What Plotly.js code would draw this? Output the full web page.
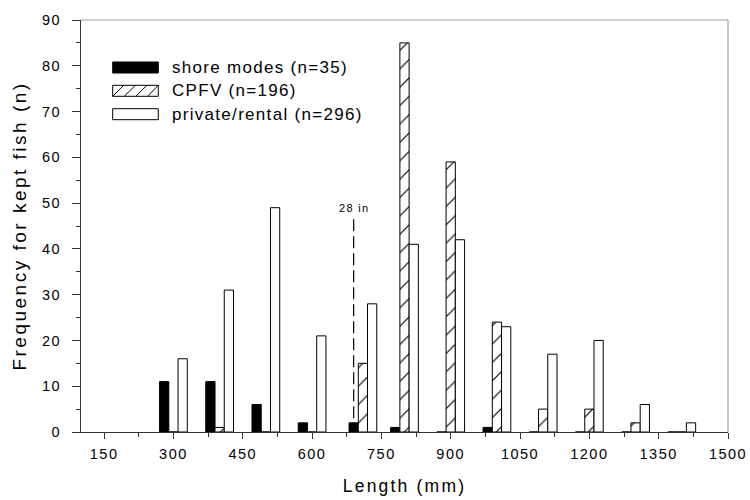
<!DOCTYPE html>
<html>
<head>
<meta charset="utf-8">
<script src="https://cdn.plot.ly/plotly-3.0.1.min.js"></script>
<style>
  html, body { margin: 0; padding: 0; background: #fff; }
  #chart { width: 750px; height: 500px; }
  .xtick text, .ytick text { letter-spacing: 1.5px; }
  .xtitle { letter-spacing: 2.2px; }
  .ytitle { letter-spacing: 2.5px; }
  .annotation-text { letter-spacing: 1.3px; }
</style>
</head>
<body>
<div id="chart"></div>
<script>
// ---- data ----
const lengthBins = [300, 400, 500, 600, 710, 800, 900, 1000, 1100, 1200, 1300, 1400];
const shoreModes = [11, 11, 6, 2, 2, 1, 0, 1, 0, 0, 0, 0];
const cpfv       = [0, 1, 0, 0, 15, 85, 59, 24, 5, 5, 2, 0];
const privateRental = [16, 31, 49, 21, 28, 41, 42, 23, 17, 20, 6, 2];
const seriesNames = ['shore modes (n=35)', 'CPFV (n=196)', 'private/rental (n=296)'];
const xTickVals = [150, 300, 450, 600, 750, 900, 1050, 1200, 1350, 1500];
const yTickVals = [0, 10, 20, 30, 40, 50, 60, 70, 80, 90];
const sizeLimitX = [690];
const sizeLimitY = [3, 46.5];
const sizeLimitLabel = ['28 in'];

// ---- layout helpers ----
const FONT = 'Liberation Sans, Arial, Helvetica, sans-serif';
const W = 750, H = 500;
const M = { l: 81, r: 22, t: 20, b: 68 };
const PW = W - M.l - M.r, PH = H - M.t - M.b;
const px = x => (x - M.l) / PW;           // pixel -> paper x
const py = y => (H - M.b - y) / PH;       // pixel -> paper y

const barW = 20;
const outline = { color: '#000', width: 1 };

const traces = [
  {
    type: 'bar', name: seriesNames[0], x: lengthBins, y: shoreModes,
    width: barW, offset: -30,
    marker: { color: '#000', line: outline }, showlegend: false
  },
  {
    type: 'bar', name: seriesNames[1], x: lengthBins, y: cpfv,
    width: barW, offset: -10,
    marker: { color: '#fff', line: outline,
      pattern: { shape: '/', fgcolor: '#000', bgcolor: '#fff', size: 13, solidity: 0.09 } },
    showlegend: false
  },
  {
    type: 'bar', name: seriesNames[2], x: lengthBins, y: privateRental,
    width: barW, offset: 10,
    marker: { color: '#fff', line: outline }, showlegend: false
  }
];

// custom legend (wide swatches as in the reference)
const legRows = [67.5, 90.8, 114.2];
const swX0 = 112.7, swX1 = 158.3, swH = 11;
const shapes = [];
const annotations = [];
legRows.forEach((cy, i) => {
  shapes.push({
    type: 'rect', xref: 'paper', yref: 'paper',
    x0: px(swX0), x1: px(swX1), y0: py(cy + swH / 2), y1: py(cy - swH / 2),
    fillcolor: i === 0 ? '#000' : '#fff', line: { color: '#000', width: 1 }
  });
  annotations.push({
    xref: 'paper', yref: 'paper', x: px(170), y: py(cy),
    xanchor: 'left', yanchor: 'middle', showarrow: false,
    text: seriesNames[i], font: { family: FONT, size: 17, color: '#000' }
  });
});
// hatch strokes in the CPFV swatch
[0, 1, 2, 3].forEach(k => {
  const bx = swX0 + k * 11.6;
  const cy = legRows[1];
  shapes.push({
    type: 'line', xref: 'paper', yref: 'paper',
    x0: px(bx), y0: py(cy + swH / 2), x1: px(Math.min(bx + swH, swX1)), y1: py(cy - swH / 2),
    line: { color: '#000', width: 1 }
  });
});

// frame top / right (grey)
shapes.push({ type: 'line', xref: 'paper', yref: 'paper', x0: 0, x1: 1, y0: 1, y1: 1,
  line: { color: '#a0a0a0', width: 1 } });
shapes.push({ type: 'line', xref: 'paper', yref: 'paper', x0: 1, x1: 1, y0: 0, y1: 1,
  line: { color: '#909090', width: 1 } });

// 28 in marker
shapes.push({ type: 'line', xref: 'x', yref: 'y',
  x0: sizeLimitX[0], x1: sizeLimitX[0], y0: sizeLimitY[0], y1: sizeLimitY[1],
  line: { color: '#000', width: 1.2, dash: '12px,5px' } });
annotations.push({ xref: 'x', yref: 'y', x: sizeLimitX[0], y: sizeLimitY[1] + 2.5,
  text: sizeLimitLabel[0], showarrow: false, xanchor: 'center', yanchor: 'middle',
  font: { family: FONT, size: 11, color: '#000' } });

const layout = {
  width: W, height: H,
  margin: M,
  paper_bgcolor: '#fff', plot_bgcolor: '#fff',
  font: { family: FONT, color: '#000' },
  barmode: 'overlay',
  showlegend: false,
  xaxis: {
    range: [100, 1500], tickmode: 'array', tickvals: xTickVals,
    ticks: 'outside', ticklen: 6, tickwidth: 1, tickcolor: '#333',
    showline: true, linecolor: '#333', linewidth: 1, mirror: false,
    showgrid: false, zeroline: false,
    ticklabelstandoff: 3,
    tickfont: { family: FONT, size: 14.5, color: '#000' },
    minor: { dtick: 75, tick0: 150, ticks: 'outside', ticklen: 3.5, tickcolor: '#333', showgrid: false },
    title: { text: 'Length (mm)', font: { family: FONT, size: 17.5, color: '#000' }, standoff: 18 },
    automargin: false
  },
  yaxis: {
    range: [0, 90], tickmode: 'array', tickvals: yTickVals,
    ticks: 'outside', ticklen: 8, tickwidth: 1, tickcolor: '#333',
    showline: true, linecolor: '#333', linewidth: 1, mirror: false,
    showgrid: false, zeroline: false,
    ticklabelstandoff: 8,
    tickfont: { family: FONT, size: 14.5, color: '#000' },
    minor: { dtick: 5, tick0: 0, ticks: 'outside', ticklen: 4, tickcolor: '#333', showgrid: false },
    title: { text: 'Frequency for kept fish (n)', font: { family: FONT, size: 19, color: '#000' }, standoff: 10 },
    automargin: false
  },
  shapes: shapes,
  annotations: annotations
};

Plotly.newPlot('chart', traces, layout, { staticPlot: true, displayModeBar: false });
</script>
</body>
</html>
